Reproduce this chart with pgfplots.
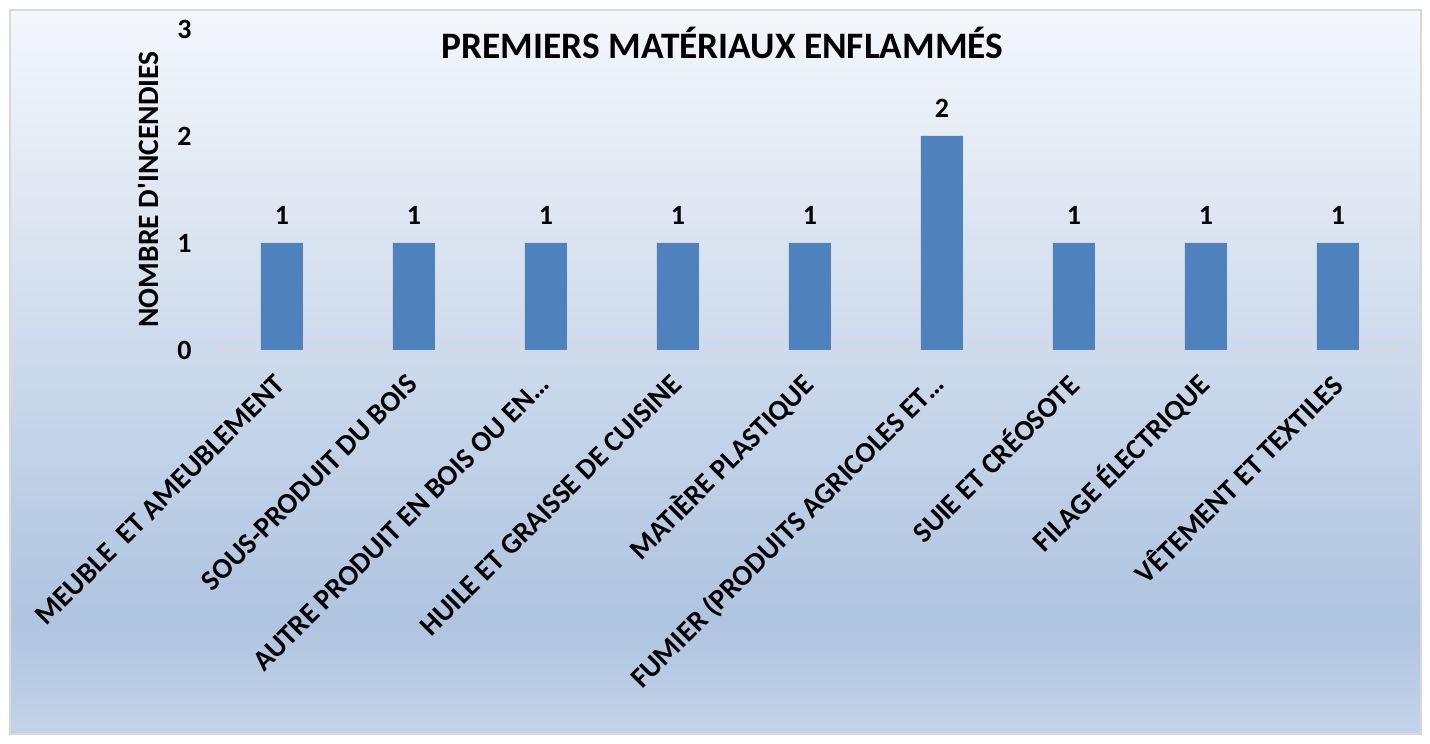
\documentclass[border=0pt]{standalone}
\usepackage{fontspec}
\setmainfont{Carlito}
\usepackage{pgfplots}
\pgfplotsset{compat=1.18}

\definecolor{barblue}{HTML}{4F81BD}
\definecolor{bgtop}{HTML}{F4F7FB}
\definecolor{bgmid}{HTML}{AFC4E0}
\definecolor{bgbot}{HTML}{C3D3E9}
\definecolor{frame}{HTML}{D9D9D9}

\begin{document}
\begin{tikzpicture}
% chart area: white page, blue gradient panel, light frame
\path[use as bounding box] (0,0) rectangle (1430bp,744bp);
\fill[white] (0,0) rectangle (1430bp,744bp);
\shade[top color=bgtop, bottom color=bgmid] (10bp,124bp) rectangle (1421bp,734bp);
\shade[top color=bgmid, bottom color=bgbot] (10bp,10bp) rectangle (1421bp,124.5bp);
\draw[frame, line width=1.5bp] (10bp,10bp) rectangle (1421bp,734bp);

\begin{axis}[
    at={(216bp,394bp)}, anchor=south west,
    scale only axis,
    width=1188bp, height=321bp,
    ybar, bar width=42bp,
    xmin=-0.5, xmax=8.5,
    ymin=0, ymax=3,
    xtick={0,...,8},
    xticklabels={MEUBLE\ \ ET AMEUBLEMENT, SOUS-PRODUIT DU BOIS, AUTRE PRODUIT EN BOIS OU EN…, HUILE ET GRAISSE DE CUISINE, MATIÈRE PLASTIQUE, FUMIER (PRODUITS AGRICOLES ET…, SUIE ET CRÉOSOTE, FILAGE ÉLECTRIQUE, VÊTEMENT ET TEXTILES},
    ytick={0,1,2,3},
    major tick length=0pt,
    axis x line*=bottom,
    axis y line*=left,
    x axis line style={draw=frame, line width=1.2bp, -},
    y axis line style={draw=none},
    /pgf/number format/assume math mode=true,
    xticklabel style={rotate=45, anchor=east, font=\bfseries\fontsize{29}{29}\selectfont, inner sep=2bp},
    xticklabel shift=28bp,
    yticklabel style={font=\bfseries\fontsize{28}{28}\selectfont},
    yticklabel shift=21bp,
    title={PREMIERS MATÉRIAUX ENFLAMMÉS},
    title style={at={(axis description cs:0.4264,0.891)}, anchor=base, yshift=0pt, font=\bfseries\fontsize{37.5}{37.5}\selectfont},
    ylabel={NOMBRE D\textquotesingle INCENDIES},
    every axis y label/.style={at={(axis description cs:-0.0572,0.5)}, rotate=90, anchor=center, font=\bfseries\fontsize{29.6}{29.6}\selectfont},
    nodes near coords,
    every node near coord/.append style={anchor=south, yshift=15bp, font=\bfseries\fontsize{28}{28}\selectfont},
]
\addplot[fill=barblue, draw=none] coordinates {(0,1) (1,1) (2,1) (3,1) (4,1) (5,2) (6,1) (7,1) (8,1)};
\end{axis}
\end{tikzpicture}
\end{document}
